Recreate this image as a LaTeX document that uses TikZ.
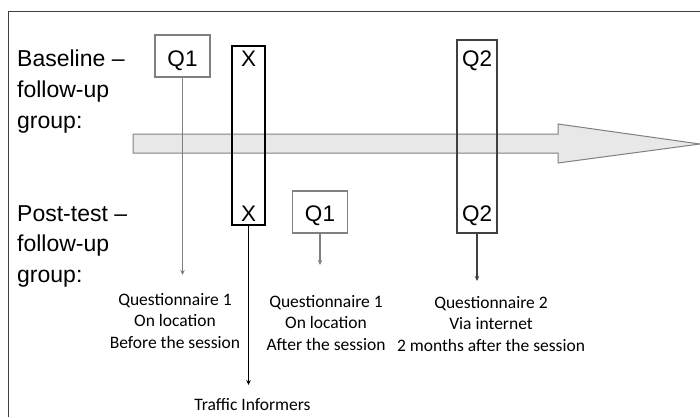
\documentclass[tikz,border=0pt]{standalone}
\usepackage{fontspec}
\setmainfont{Liberation Sans}
\newfontfamily\notefont{Carlito}
\usetikzlibrary{arrows.meta}
\definecolor{framegray}{HTML}{404040}
\definecolor{boxgray}{HTML}{808080}
\definecolor{arrowfill}{HTML}{E8E8E8}

\begin{document}
\begin{tikzpicture}[x=1pt, y=-1pt,
  group/.style={font=\fontsize{23}{30.5}\selectfont, align=left,
    anchor=base west, inner sep=0pt},
  cell/.style={font=\fontsize{22.5}{27}\selectfont, anchor=base,
    inner sep=0pt},
  band/.style={draw, line width=1.5pt, inner sep=0pt},
  note/.style={font=\notefont\fontsize{17.5}{21.5}\selectfont,
    align=center, anchor=base, inner sep=0pt},
  link/.style={-{Stealth[length=5pt, width=4.5pt]}, line width=1.2pt},
]
  \useasboundingbox (0,0) rectangle (700,417);
  % Frame
  \draw[framegray, line width=1pt] (8,417) -- (8,12) -- (700,12);
  % Time line
  \draw[boxgray, fill=arrowfill, line width=1pt]
    (133,134) -- (558,134) -- (558,124) -- (700,144)
    -- (558,163) -- (558,153) -- (133,153) -- cycle;
  % Group labels (base = last line)
  \node[group] (base) at (17,128) {Baseline --\\follow-up\\group:};
  \node[group] (post) at (17,282) {Post-test --\\follow-up\\group:};
  % Measurements
  \node[cell, band, draw=boxgray, minimum width=55pt,
    text height=32pt, text depth=10pt] (q1a) at (182.5,67) {Q1};
  \node[band, draw=black, minimum width=33pt, minimum height=179pt]
    (xband) at (248.5,135.5) {};
  \node[cell] (xa) at (248.5,67) {X};
  \node[cell] (xb) at (248.5,221) {X};
  \node[cell, band, draw=boxgray, minimum width=55pt,
    text height=30pt, text depth=12pt] (q1b) at (320,221) {Q1};
  \node[band, draw=framegray, minimum width=40pt, minimum height=193pt]
    (q2band) at (477,136.5) {};
  \node[cell] (q2a) at (477,67) {Q2};
  \node[cell] (q2b) at (477,221) {Q2};
  % Arrow ends
  \coordinate (q1aend) at (q1a.south |- 0,275);
  \coordinate (xend) at (xband.south |- 0,385);
  \coordinate (q1bend) at (q1b.south |- 0,265);
  \coordinate (q2end) at (q2band.south |- 0,281);
  \draw[link, boxgray] (q1a.south) -- (q1aend);
  \draw[link, black, line width=1.6pt] (xband.south) -- (xend);
  \draw[link, boxgray] (q1b.south) -- (q1bend);
  \draw[link, framegray] (q2band.south) -- (q2end);
  % Notes (base = last line)
  \node[note] (notea) at (175,348)
    {Questionnaire 1\\On location\\Before the session};
  \node[note] (noteb) at (326,350)
    {Questionnaire 1\\On location\\After the session};
  \node[note] (notec) at (491,351)
    {Questionnaire 2\\Via internet\\2 months after the session};
  \node[note] (notex) at (252.5,410) {Traffic Informers};
\end{tikzpicture}
\end{document}
